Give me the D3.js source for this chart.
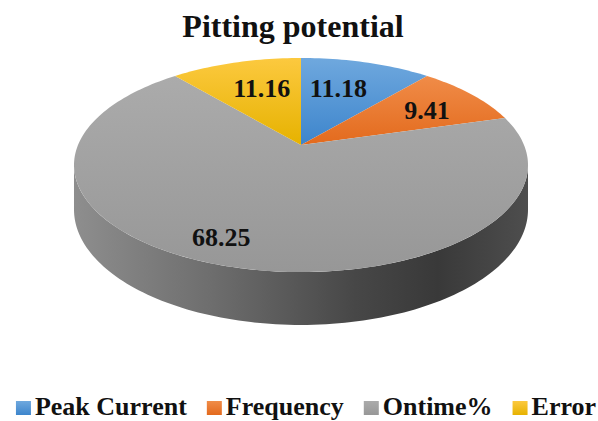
<!DOCTYPE html>
<html>
<head>
<meta charset="utf-8">
<script src="https://cdn.jsdelivr.net/npm/d3@7"></script>
<style>
  body { margin: 0; background: #fff; }
  svg { display: block; }
</style>
</head>
<body>
<script>
// chart data
var categories = ["Peak Current", "Frequency", "Ontime%", "Error"];
var values = [11.18, 9.41, 68.25, 11.16];
var labels = ["11.18", "9.41", "68.25", "11.16"];

// styles
var topColors = [["#6fa8de", "#3d85cc"], ["#f08c48", "#e36a1d"], ["#ababab", "#979797"], ["#fcc93f", "#e6b200"]];
var labelRadius = [0.66, 0.66, 0.80, 0.66];
var labelShift = [-8, 10, -19, 6];
var serif = "Liberation Serif";

var width = 598, height = 421;
var cx = 301, cy = 145;   // where the slices meet
var A = 223, B = 103.3, k = 0.187, D = 43;   // perspective of the disc

var svg = d3.select("body").append("svg")
    .attr("width", width)
    .attr("height", height);

var defs = svg.append("defs");

var xs = d3.scaleLinear().domain([-1, 1]).range([cx - A, cx + A]);
var ys = d3.scaleLinear().domain([-1, 1]).range([cy + B, cy - B]);

// project a point of the disc (radius t, angle a clockwise from top), drop = 1 for bottom face
function proj(t, a, drop) {
    var X = t * Math.sin(a), Z = t * Math.cos(a);
    var w = 1 + k * Z;
    return [xs(X / w), ys(Z / w) + (drop || 0) * D / w];
}

var line = d3.line();

// side of the disc
var aR = Math.acos(-k), aL = 2 * Math.PI - aR;
var sidePts = [];
d3.range(0, 121).forEach(function(i) { sidePts.push(proj(1, aR + (aL - aR) * i / 120, 0)); });
d3.range(120, -1, -1).forEach(function(i) { sidePts.push(proj(1, aR + (aL - aR) * i / 120, 1)); });

var sideGrad = defs.append("linearGradient").attr("id", "side")
    .attr("gradientUnits", "userSpaceOnUse")
    .attr("x1", cx - A * 1.02).attr("x2", cx + A * 1.02).attr("y1", 0).attr("y2", 0);
[[0, "#8e8e8e"], [0.3, "#6e6e6e"], [0.62, "#474747"], [0.8, "#393939"], [1, "#4e4e4e"]].forEach(function(s) {
    sideGrad.append("stop").attr("offset", s[0]).attr("stop-color", s[1]);
});

svg.append("path")
    .attr("d", line(sidePts) + "Z")
    .attr("fill", "url(#side)");

// top face slices
var pie = d3.pie().sort(null).value(function(d) { return d; });
var arcs = pie(values);

arcs.forEach(function(d, i) {
    var g = defs.append("linearGradient").attr("id", "g" + i)
        .attr("x1", 0).attr("x2", 0).attr("y1", 0).attr("y2", 1);
    g.append("stop").attr("offset", 0).attr("stop-color", topColors[i][0]);
    g.append("stop").attr("offset", 1).attr("stop-color", topColors[i][1]);
});

svg.append("g").selectAll("path")
    .data(arcs)
    .join("path")
    .attr("d", function(d) {
        var pts = [proj(0, 0, 0)];
        var n = Math.max(8, Math.ceil((d.endAngle - d.startAngle) * 40));
        for (var j = 0; j <= n; j++) {
            pts.push(proj(1, d.startAngle + (d.endAngle - d.startAngle) * j / n, 0));
        }
        return line(pts) + "Z";
    })
    .attr("fill", function(d, i) { return "url(#g" + i + ")"; });

// data labels
svg.append("g").selectAll("text")
    .data(arcs)
    .join("text")
    .attr("x", function(d, i) { return proj(labelRadius[i], (d.startAngle + d.endAngle) / 2, 0)[0] + labelShift[i]; })
    .attr("y", function(d, i) { return proj(labelRadius[i], (d.startAngle + d.endAngle) / 2, 0)[1]; })
    .attr("dy", "0.35em")
    .attr("text-anchor", "middle")
    .attr("font-family", serif)
    .attr("font-size", 26)
    .attr("font-weight", "bold")
    .attr("fill", "#111")
    .text(function(d, i) { return labels[i]; });

// title
svg.append("text")
    .attr("x", 293)
    .attr("y", 37)
    .attr("text-anchor", "middle")
    .attr("font-family", serif)
    .attr("font-size", 32)
    .attr("font-weight", "bold")
    .attr("fill", "#111")
    .text("Pitting potential");

// legend
var legend = svg.append("g");
var items = legend.selectAll("g")
    .data(categories)
    .join("g");
items.append("rect")
    .attr("width", 15).attr("height", 14)
    .attr("y", -14)
    .attr("fill", function(d, i) { return "url(#g" + i + ")"; });
items.append("text")
    .attr("x", 19)
    .attr("font-family", serif)
    .attr("font-size", 26)
    .attr("font-weight", "bold")
    .attr("fill", "#111")
    .text(function(d) { return d; });

var gap = 20;
var xpos = 0;
items.each(function() {
    var w = 19 + d3.select(this).select("text").node().getComputedTextLength();
    d3.select(this).attr("transform", "translate(" + xpos + ",0)");
    xpos += w + gap;
});
var total = xpos - gap;
legend.attr("transform", "translate(" + (306 - total / 2) + ",415)");
</script>
</body>
</html>
